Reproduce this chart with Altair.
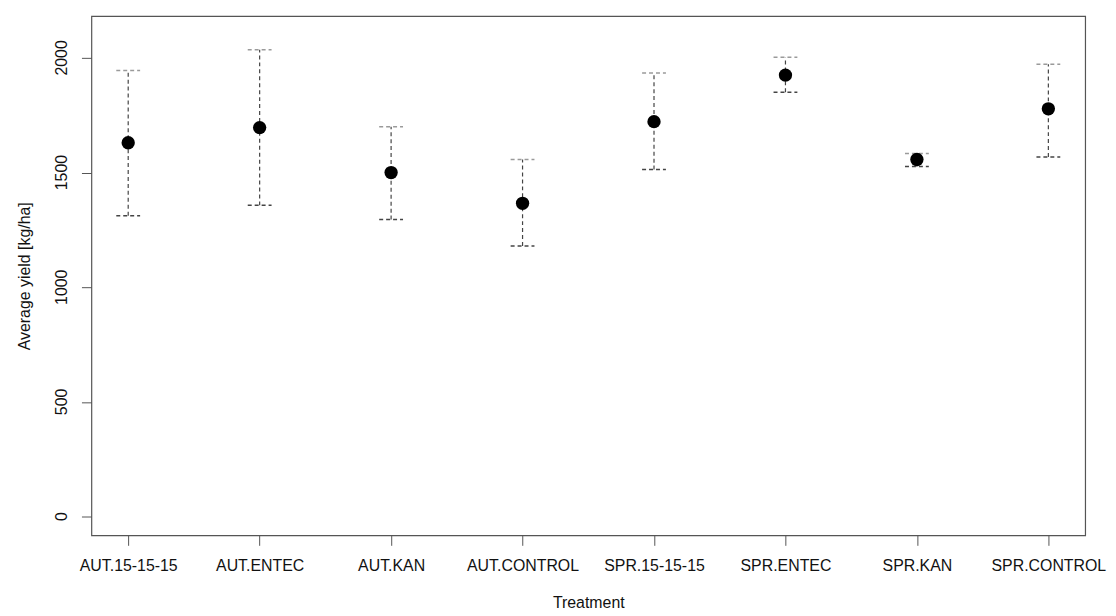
import altair as alt
import pandas as pd

treatments = ["AUT.15-15-15", "AUT.ENTEC", "AUT.KAN", "AUT.CONTROL",
              "SPR.15-15-15", "SPR.ENTEC", "SPR.KAN", "SPR.CONTROL"]
means = [1630, 1696, 1500, 1366, 1722, 1925, 1557, 1778]
upper = [1945, 2035, 1700, 1557, 1934, 2003, 1583, 1972]
lower = [1312, 1357, 1295, 1180, 1513, 1850, 1526, 1568]
y_ticks = [0, 500, 1000, 1500, 2000]

df = pd.DataFrame({"Treatment": treatments, "mean": means, "hi": upper, "lo": lower})
ticks_df = pd.DataFrame({"v": y_ticks, "lab": [str(v) for v in y_ticks]})

FONT = "Liberation Sans"
FS = 16
xsc = alt.Scale(type="point", domain=treatments, padding=0.28)
ysc = alt.Scale(domain=[-82, 2182], nice=False, zero=False)

xax = alt.Axis(title="Treatment", labelAngle=0, domain=False, tickSize=10, tickColor="#555",
               labelFont=FONT, labelFontSize=FS, labelColor="#111", labelPadding=12,
               titleFont=FONT, titleFontSize=FS, titleFontWeight="normal", titleColor="#111",
               titlePadding=22, grid=False)
yax = alt.Axis(title="Average yield [kg/ha]", values=y_ticks, labels=False,
               domain=False, tickSize=10, tickColor="#555",
               titleFont=FONT, titleFontSize=FS, titleFontWeight="normal", titleColor="#111",
               titlePadding=49, grid=False)

base = alt.Chart(df)
X = alt.X("Treatment:O", scale=xsc, axis=xax, sort=treatments)

bars = base.mark_rule(color="#444", strokeDash=[4, 3], strokeWidth=1.2).encode(
    x=X,
    y=alt.Y("lo:Q", scale=ysc, axis=yax),
    y2="hi:Q",
)
cap_hi = base.mark_rule(color="#9a9a9a", strokeDash=[4, 3], strokeWidth=1.5, xOffset=-12, x2Offset=12).encode(
    x=X,
    x2="Treatment:O",
    y=alt.Y("hi:Q", scale=ysc, axis=yax),
)
cap_lo = base.mark_rule(color="#444", strokeDash=[4, 3], strokeWidth=1.5, xOffset=-12, x2Offset=12).encode(
    x=X,
    x2="Treatment:O",
    y=alt.Y("lo:Q", scale=ysc, axis=yax),
)
pts = base.mark_circle(color="black", opacity=1, size=180).encode(
    x=X,
    y=alt.Y("mean:Q", scale=ysc, axis=yax),
)
ylabels = alt.Chart(ticks_df).mark_text(
    align="center", baseline="bottom", font=FONT, fontSize=FS, color="#111"
).encode(
    x=alt.value(-22),
    y=alt.Y("v:Q", scale=ysc, axis=yax),
    text="lab:N",
    angle=alt.value(-90),
)

chart = alt.layer(bars, cap_hi, cap_lo, pts, ylabels).properties(
    width=1001, height=523,
    background="white",
    autosize=alt.AutoSizeParams(type="none"),
    padding={"left": 84, "top": 6, "right": 23, "bottom": 79},
).configure_view(stroke="#555", strokeWidth=1.2)

chart.save("out.html", embed_options={"renderer": "svg", "actions": False})
